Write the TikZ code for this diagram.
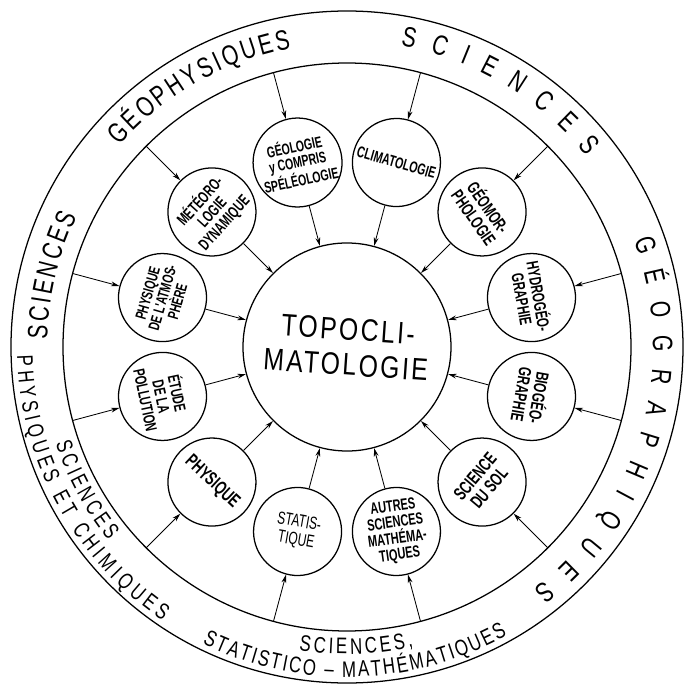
\documentclass[tikz,border=0pt]{standalone}
\usepackage{fontspec}
\setmainfont{Liberation Sans}
\newfontfamily\ringfont[FakeStretch=0.75]{Liberation Sans}
\newfontfamily\blobfont[FakeStretch=0.68]{Liberation Sans}
\newfontfamily\topofont[FakeStretch=0.8,LetterSpace=8]{Liberation Sans}
\newcommand\bigring{\ringfont\fontsize{20}{20}\selectfont}
\newcommand\smallring{\ringfont\fontsize{16}{16}\selectfont}
\usetikzlibrary{arrows.meta,decorations.text}

\begin{document}
\begin{tikzpicture}[x=0.025cm, y=0.025cm,
  ring/.style={line width=0.9pt},
  blob/.style={circle, draw, line width=0.9pt, minimum size=2.2cm, inner sep=0pt, align=center, font=\blobfont\bfseries\fontsize{#1}{#1}\selectfont},
  blob/.default=11.5,
  plain/.style={font=\blobfont\fontsize{12.5}{13}\selectfont},
  core/.style={circle, draw, line width=0.9pt, minimum size=5.2cm, inner sep=0pt, align=center, font=\topofont\fontsize{22}{25}\selectfont},
  feed/.style={line width=0.6pt, -{Stealth[length=6pt,width=3.4pt]}},
  ringtext/.style={decorate, decoration={text along path, text align=fit to path, text={#1}}}
]
\useasboundingbox (-347,-339) rectangle (337,347);

% Rings
\draw[ring] (0,0) circle[radius=336];
\draw[ring] (0,0) circle[radius=284];

% Ring labels
\path[ringtext={|\bigring|SCIENCES}] (178.5:300) arc[start angle=178.5, end angle=154.2, radius=300];
\path[ringtext={|\bigring|GÉOPHYSIQUES}] (138.4:304) arc[start angle=138.4, end angle=100.6, radius=304];
\path[ringtext={|\bigring|SCIENCES}] (79.9:306) arc[start angle=79.9, end angle=38.6, radius=306];
\path[ringtext={|\bigring|GÉOGRAPHIQUES}] (20.4:306) arc[start angle=20.4, end angle=-52.4, radius=306];
\path[ringtext={|\smallring|STATISTICO – MATHÉMATIQUES}] (-116:330) arc[start angle=-116, end angle=-61, radius=330];
\path[ringtext={|\smallring|SCIENCES,}] (-99:307) arc[start angle=-99, end angle=-77.5, radius=307];
\path[ringtext={|\smallring|PHYSIQUES ET CHIMIQUES}] (181.5:330) arc[start angle=181.5, end angle=236, radius=330];
\path[ringtext={|\smallring|SCIENCES}] (198.4:307) arc[start angle=198.4, end angle=219, radius=307];

% Centre
\node[core, rotate=-4] (topo) at (0,0) {TOPOCLI-\\MATOLOGIE};

% Disciplines
\node[blob=11, rotate=12]   (geolog)  at (105:191)  {GÉOLOGIE\\y COMPRIS\\SPÉLÉOLOGIE};
\node[blob=11.2, rotate=-16] (climato) at (75:191)  {CLIMATOLOGIE};
\node[blob=12.5, rotate=-55] (geomor) at (45:191)   {GÉOMOR-\\PHOLOGIE};
\node[blob=12, rotate=-80]  (hydro)   at (15:191)   {HYDROGÉO-\\GRAPHIE};
\node[blob=12.5, rotate=-100] (biogeo) at (-15:191) {BIOGÉO-\\GRAPHIE};
\node[blob=13, rotate=50]   (sol)     at (-45:191)  {SCIENCE\\DU SOL};
\node[blob=11.5, rotate=8]  (autres)  at (-75:191)  {AUTRES\\SCIENCES\\MATHÉMA-\\TIQUES};
\node[blob, plain, rotate=-10] (statis) at (-105:191) {STATIS-\\TIQUE};
\node[blob=13.5, rotate=-43] (physiq) at (-135:191) {PHYSIQUE};
\node[blob=11.5, rotate=-78] (pollut) at (-165:191) {ÉTUDE\\DE LA\\POLLUTION};
\node[blob=11, rotate=74]   (atmos)   at (165:191)  {PHYSIQUE\\DE L'ATMOS-\\PHÈRE};
\node[blob=11.5, rotate=48] (meteo)   at (135:191)  {MÉTÉORO-\\LOGIE\\DYNAMIQUE};

% Arrows: ring -> discipline -> centre
\foreach \n/\a in {geolog/105, climato/75, geomor/45, hydro/15, biogeo/-15, sol/-45,
                   autres/-75, statis/-105, physiq/-135, pollut/-165, atmos/165, meteo/135} {
  \coordinate (rim-\n) at (\a:284);
  \draw[feed] (rim-\n) -- (\n);
  \draw[feed] (\n) -- (topo);
}
\end{tikzpicture}
\end{document}
